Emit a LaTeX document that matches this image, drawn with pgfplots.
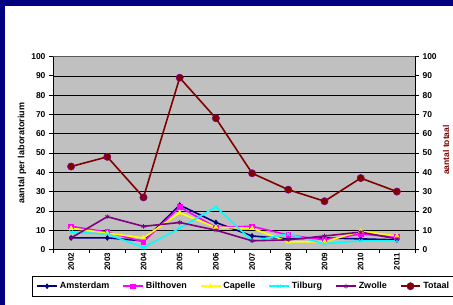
\documentclass[border=0pt]{standalone}
\usepackage{pgfplots}
\pgfplotsset{compat=1.18}
\usepackage{fontspec}
\setmainfont{Liberation Sans}
\definecolor{navyb}{RGB}{0,0,128}
\definecolor{cAms}{RGB}{0,0,128}
\definecolor{cBil}{RGB}{255,0,255}
\definecolor{cCap}{RGB}{255,255,0}
\definecolor{cTil}{RGB}{0,255,255}
\definecolor{cZwo}{RGB}{128,0,128}
\definecolor{cTot}{RGB}{128,0,0}
\definecolor{bggray}{RGB}{192,192,192}
\begin{document}
\begin{tikzpicture}[x=1pt,y=1pt]
\fill[white] (0,0) rectangle (453,305);
\fill[navyb] (0,0) rectangle (5,305);
\fill[navyb] (0,299) rectangle (453,305);
\path[use as bounding box] (0,0) rectangle (453,305);
\begin{axis}[
  at={(53pt,55.5pt)}, anchor=south west,
  scale only axis, width=362pt, height=193pt,
  xmin=-0.5, xmax=9.5, ymin=0, ymax=100,
  axis background/.style={fill=bggray},
  axis x line*=bottom, axis y line*=left,
  axis line style={black, line width=0.6pt},
  ytick={0,10,...,100},
  ymajorgrids, grid style={black, line width=0.5pt},
  tick align=outside, major tick length=4pt,
  tick style={black, line width=0.6pt},
  xtick={-0.5,0.5,...,9.5}, xticklabels={},
  extra x ticks={0,1,...,9},
  extra x tick labels={2002,2003,2004,2005,2006,2007,2008,2009,2010,2011},
  extra x tick style={major tick length=0pt, grid=none},
  x tick label style={rotate=90, anchor=east, font=\fontsize{8}{9}\selectfont\bfseries},
  y tick label style={font=\fontsize{8.5}{9}\selectfont\bfseries},
  /pgf/number format/assume math mode=true,
  ylabel={aantal per laboratorium},
  ylabel style={at={(axis description cs:-0.0856,0.5)}, anchor=center, font=\fontsize{9}{10}\selectfont\bfseries},
  legend columns=6,
  legend style={at={(axis description cs:-0.058,-0.137)}, anchor=north west,
    draw=black, fill=white, line width=0.6pt, font=\fontsize{9}{10}\selectfont\bfseries,
    inner ysep=4pt, inner xsep=4pt,
    /tikz/every even column/.append style={column sep=11pt}},
  legend image code/.code={\draw[mark repeat=2,mark phase=2] plot coordinates {(0cm,0cm) (0.35cm,0cm) (0.7cm,0cm)};},
  every axis plot/.append style={line width=1.6pt, mark size=2.3pt, mark options={solid, line width=0.8pt}},
]
\addplot[cAms, mark=diamond*] coordinates {(0,6) (1,6) (2,4.5) (3,23) (4,14) (5,7) (6,5.5) (7,6) (8,5.5) (9,5)};
\addlegendentry{Amsterdam}
\addplot[cBil, mark=square*] coordinates {(0,12) (1,9) (2,4) (3,22) (4,11.5) (5,12) (6,7.5) (7,5) (8,8) (9,6.5)};
\addlegendentry{Bilthoven}
\addplot[cCap, mark=triangle*] coordinates {(0,11) (1,8.5) (2,6) (3,19) (4,11.5) (5,11) (6,4) (7,4) (8,9.5) (9,7)};
\addlegendentry{Capelle}
\addplot[cTil, mark=x] coordinates {(0,9) (1,8) (2,1) (3,11) (4,22) (5,4.5) (6,8) (7,3) (8,4.5) (9,4.5)};
\addlegendentry{Tilburg}
\addplot[cZwo, mark=asterisk] coordinates {(0,6) (1,17) (2,12) (3,14) (4,10) (5,4.5) (6,5) (7,7) (8,9) (9,5.5)};
\addlegendentry{Zwolle}
\addplot[cTot, mark=*, mark size=3.6pt, mark options={fill=cTot, draw=cZwo, line width=0.6pt}] coordinates {(0,43) (1,48) (2,27) (3,89) (4,68) (5,39.5) (6,31) (7,25) (8,37) (9,30)};
\addlegendentry{Totaal}
\draw[gray!70!black, line width=0.6pt] (rel axis cs:0,1) -- (rel axis cs:1,1);
\end{axis}
\begin{axis}[
  at={(53pt,55.5pt)}, anchor=south west,
  scale only axis, width=362pt, height=193pt,
  xmin=-0.5, xmax=9.5, ymin=0, ymax=100,
  axis x line=none, axis y line*=right, clip=false,
  axis line style={black, line width=0.6pt},
  ytick={0,10,...,100},
  tick align=outside, major tick length=4pt,
  tick style={black, line width=0.6pt},
  y tick label style={font=\fontsize{8.5}{9}\selectfont\bfseries},
  /pgf/number format/assume math mode=true,
]
\addplot[draw=none] coordinates {(0,0)};
\node[rotate=90, anchor=center, text=cTot, font=\fontsize{8.5}{10}\selectfont\bfseries] at (axis description cs:1.0856,0.515) {aantal totaal};
\end{axis}
\end{tikzpicture}
\end{document}
